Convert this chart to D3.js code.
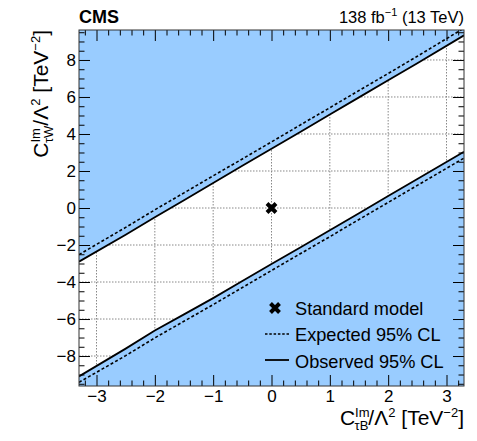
<!DOCTYPE html>
<html>
<head>
<meta charset="utf-8">
<script src="https://cdn.jsdelivr.net/npm/d3@7"></script>
<style>
  body { margin: 0; background: #fff; }
  svg text { font-family: "Liberation Sans", Arial, sans-serif; fill: #000; }
</style>
</head>
<body>
<div id="chart"></div>
<script>
// contour points (x = C_tauB, y = C_tauW), TeV^-2
var boundX      = [-3.3, -2.5, -2, -1.5, -1, -0.5, 0, 0.5, 1, 1.5, 2, 2.5, 3.3];
var obsUpper    = [-2.9, -1.45, -0.5, 0.42, 1.35, 2.28, 3.2, 4.12, 5.05, 5.98, 6.9, 7.82, 9.33];
var obsLower    = [-9.1, -7.6, -6.62, -5.75, -4.87, -3.95, -3.03, -2.12, -1.2, -0.28, 0.65, 1.57, 3.04];
var expUpper    = [-2.52, -1.05, -0.1, 0.82, 1.74, 2.65, 3.57, 4.5, 5.42, 6.35, 7.27, 8.2, 9.72];
var expLower    = [-9.42, -7.98, -7.02, -6.12, -5.22, -4.3, -3.38, -2.46, -1.55, -0.62, 0.3, 1.22, 2.7];
var smPoint     = [0, 0];

var xTicks = [-3, -2, -1, 0, 1, 2, 3];
var yTicks = [-8, -6, -4, -2, 0, 2, 4, 6, 8];
var xDomain = [-3.3, 3.3];
var yDomain = [-9.62, 9.62];

var W = 477, H = 441;
var mLeft = 79, mRight = 464, mTop = 30, mBottom = 386;

var svg = d3.select('#chart').append('svg')
    .attr('width', W)
    .attr('height', H);

var x = d3.scaleLinear().domain(xDomain).range([mLeft, mRight]);
var y = d3.scaleLinear().domain(yDomain).range([mBottom, mTop]);

svg.append('clipPath').attr('id', 'plotclip')
  .append('rect')
    .attr('x', mLeft).attr('y', mTop)
    .attr('width', mRight - mLeft).attr('height', mBottom - mTop);

var plot = svg.append('g').attr('clip-path', 'url(#plotclip)');

// grid (drawn first, the excluded region covers it)
plot.selectAll('line.gx').data(xTicks).enter().append('line')
    .attr('x1', d => x(d)).attr('x2', d => x(d))
    .attr('y1', mTop).attr('y2', mBottom)
    .attr('stroke', '#888').attr('stroke-width', 1).attr('stroke-dasharray', '1.5,1.5');
plot.selectAll('line.gy').data(yTicks).enter().append('line')
    .attr('y1', d => y(d)).attr('y2', d => y(d))
    .attr('x1', mLeft).attr('x2', mRight)
    .attr('stroke', '#888').attr('stroke-width', 1).attr('stroke-dasharray', '1.5,1.5');

// excluded regions
var pts = (ys) => boundX.map((d, i) => [d, ys[i]]);
var line = d3.line().x(d => x(d[0])).y(d => y(d[1]));
var upperPoly = pts(obsUpper).concat([[xDomain[1], yDomain[1]], [xDomain[0], yDomain[1]]]);
var lowerPoly = pts(obsLower).concat([[xDomain[1], yDomain[0]], [xDomain[0], yDomain[0]]]);
[upperPoly, lowerPoly].forEach(function (p) {
    plot.append('path').attr('d', line(p) + 'Z')
        .attr('fill', '#99ccff').attr('stroke', 'none');
});

// contour lines
[expUpper, expLower].forEach(function (ys) {
    plot.append('path').attr('d', line(pts(ys)))
        .attr('fill', 'none').attr('stroke', '#000')
        .attr('stroke-width', 1.6).attr('stroke-dasharray', '3,2.2');
});
[obsUpper, obsLower].forEach(function (ys) {
    plot.append('path').attr('d', line(pts(ys)))
        .attr('fill', 'none').attr('stroke', '#000')
        .attr('stroke-width', 1.8);
});

// SM marker
function cross(g, cx, cy, s) {
    g.append('path')
        .attr('d', `M${cx - s},${cy - s}L${cx + s},${cy + s}M${cx + s},${cy - s}L${cx - s},${cy + s}`)
        .attr('stroke', '#000').attr('stroke-width', 4).attr('stroke-linecap', 'butt');
}
cross(svg, x(smPoint[0]), y(smPoint[1]), 4.5);

// axes, ticks inward on all four sides
var xMinor = d3.range(-32, 33, 2).map(d => d / 10).filter(d => !xTicks.includes(d));
var yMinor = d3.range(-19, 20, 1).map(d => d / 2).filter(d => !yTicks.includes(d));
var fmt = d3.format('d');

function ticksOn(axisFn, scale, vals, size, tr, lab) {
    var a = axisFn(scale).tickValues(vals).tickSize(-size).tickPadding(lab ? 14 : 0);
    a.tickFormat(lab ? fmt : '');
    var g = svg.append('g').attr('transform', tr).call(a);
    g.select('.domain').remove();
    g.selectAll('line').attr('stroke', '#000').attr('stroke-width', 1);
    return g;
}
var gx = ticksOn(d3.axisBottom, x, xTicks, 11, `translate(0,${mBottom})`, true);
ticksOn(d3.axisBottom, x, xMinor, 5.5, `translate(0,${mBottom})`, false);
ticksOn(d3.axisTop, x, xTicks, 11, `translate(0,${mTop})`, false);
ticksOn(d3.axisTop, x, xMinor, 5.5, `translate(0,${mTop})`, false);
var gy = ticksOn(d3.axisLeft, y, yTicks, 11, `translate(${mLeft},0)`, true);
ticksOn(d3.axisLeft, y, yMinor, 5.5, `translate(${mLeft},0)`, false);
ticksOn(d3.axisRight, y, yTicks, 11, `translate(${mRight},0)`, false);
ticksOn(d3.axisRight, y, yMinor, 5.5, `translate(${mRight},0)`, false);

gx.selectAll('text').attr('font-size', 17).attr('y', 4).attr('dy', '0.71em')
    .attr('font-family', '"Liberation Sans", Arial, sans-serif').attr('fill', '#000');
gy.selectAll('text').attr('font-size', 17)
    .attr('font-family', '"Liberation Sans", Arial, sans-serif').attr('fill', '#000')
    .attr('x', -3);

// frame
svg.append('rect')
    .attr('x', mLeft).attr('y', mTop)
    .attr('width', mRight - mLeft).attr('height', mBottom - mTop)
    .attr('fill', 'none').attr('stroke', '#333').attr('stroke-width', 1);

// header
svg.append('text').attr('x', mLeft).attr('y', 23)
    .attr('font-size', 18).attr('font-weight', 'bold').text('CMS');
var lumi = svg.append('text').attr('x', mRight).attr('y', 23)
    .attr('font-size', 16.5).attr('text-anchor', 'end');
lumi.append('tspan').text('138 fb');
lumi.append('tspan').attr('dy', -7).attr('font-size', 11).text('\u22121');
lumi.append('tspan').attr('dy', 7).text(' (13 TeV)');

// axis titles
function coefTitle(t, sub) {
    t.append('tspan').text('C');
    t.append('tspan').attr('dy', -8).attr('font-size', 13).text('Im');
    t.append('tspan').attr('dy', 13).attr('dx', -15).attr('font-size', 13).text(sub);
    t.append('tspan').attr('dy', -5).text('/\u039B');
    t.append('tspan').attr('dy', -8).attr('font-size', 13).text('2');
    t.append('tspan').attr('dy', 8).text(' [TeV');
    t.append('tspan').attr('dy', -8).attr('font-size', 13).text('\u22122');
    t.append('tspan').attr('dy', 8).text(']');
}
var xt = svg.append('text').attr('x', mRight).attr('y', 425)
    .attr('font-size', 21).attr('text-anchor', 'end');
coefTitle(xt, '\u03C4B');
var yt = svg.append('text')
    .attr('transform', `translate(48,${mTop}) rotate(-90)`)
    .attr('font-size', 21).attr('text-anchor', 'end');
coefTitle(yt, '\u03C4W');

// legend
var leg = svg.append('g');
cross(leg, 275, 308, 4.5);
leg.append('line').attr('x1', 265).attr('x2', 289).attr('y1', 334).attr('y2', 334)
    .attr('stroke', '#000').attr('stroke-width', 1.6).attr('stroke-dasharray', '2.5,1.8');
leg.append('line').attr('x1', 265).attr('x2', 289).attr('y1', 360).attr('y2', 360)
    .attr('stroke', '#000').attr('stroke-width', 1.8);
var legLabels = ['Standard model', 'Expected 95% CL', 'Observed 95% CL'];
leg.selectAll('text.leg').data(legLabels).enter().append('text')
    .attr('class', 'leg')
    .attr('x', 295).attr('y', (d, i) => 314.5 + i * 26.5)
    .attr('font-size', 18.2).text(d => d);
</script>
</body>
</html>
